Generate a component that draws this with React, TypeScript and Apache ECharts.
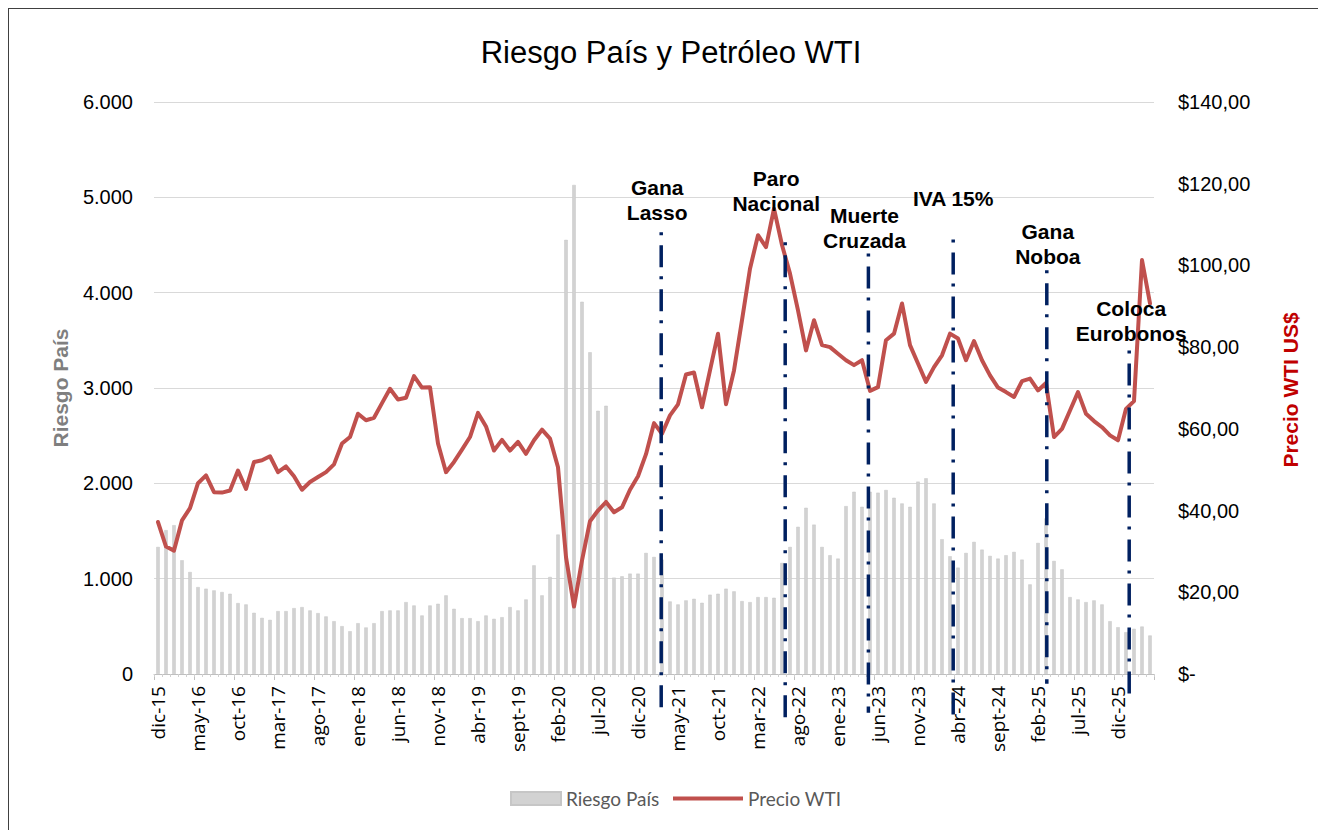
import React, { useEffect, useRef } from "react";
import * as echarts from "echarts";

const categories = [
  "dic-15",
  "ene-16", "feb-16", "mar-16", "abr-16", "may-16", "jun-16", "jul-16", "ago-16", "sept-16", "oct-16", "nov-16", "dic-16",
  "ene-17", "feb-17", "mar-17", "abr-17", "may-17", "jun-17", "jul-17", "ago-17", "sept-17", "oct-17", "nov-17", "dic-17",
  "ene-18", "feb-18", "mar-18", "abr-18", "may-18", "jun-18", "jul-18", "ago-18", "sept-18", "oct-18", "nov-18", "dic-18",
  "ene-19", "feb-19", "mar-19", "abr-19", "may-19", "jun-19", "jul-19", "ago-19", "sept-19", "oct-19", "nov-19", "dic-19",
  "ene-20", "feb-20", "mar-20", "abr-20", "may-20", "jun-20", "jul-20", "ago-20", "sept-20", "oct-20", "nov-20", "dic-20",
  "ene-21", "feb-21", "mar-21", "abr-21", "may-21", "jun-21", "jul-21", "ago-21", "sept-21", "oct-21", "nov-21", "dic-21",
  "ene-22", "feb-22", "mar-22", "abr-22", "may-22", "jun-22", "jul-22", "ago-22", "sept-22", "oct-22", "nov-22", "dic-22",
  "ene-23", "feb-23", "mar-23", "abr-23", "may-23", "jun-23", "jul-23", "ago-23", "sept-23", "oct-23", "nov-23", "dic-23",
  "ene-24", "feb-24", "mar-24", "abr-24", "may-24", "jun-24", "jul-24", "ago-24", "sept-24", "oct-24", "nov-24", "dic-24",
  "ene-25", "feb-25", "mar-25", "abr-25", "may-25", "jun-25", "jul-25", "ago-25", "sept-25", "oct-25", "nov-25", "dic-25",
  "ene-26", "feb-26", "mar-26", "abr-26",
];

const riesgoPais = [
  1333, 1509, 1561, 1193, 1070, 912, 895, 877, 860, 842,
  744, 730, 642, 589, 568, 660, 660, 691, 702, 667,
  639, 604, 554, 502, 449, 533, 488, 533, 660, 667,
  667, 754, 719, 614, 719, 737, 825, 684, 586, 586,
  554, 614, 579, 596, 702, 667, 782, 1140, 825, 1018,
  1463, 4554, 5130, 3905, 3375, 2761, 2814, 1011, 1025, 1053,
  1053, 1270, 1228, 1200, 761, 730, 772, 789, 747, 832,
  842, 895, 867, 765, 754, 807, 807, 800, 1165, 1333,
  1544, 1744, 1567, 1333, 1246, 1211, 1761, 1912, 1754, 1912,
  1902, 1930, 1849, 1789, 1754, 2018, 2053, 1789, 1414, 1235,
  1116, 1270, 1386, 1305, 1239, 1211, 1246, 1281, 1200, 940,
  1375, 1632, 1186, 1098, 807, 782, 754, 772, 730, 554,
  491, 439, 474, 498, 404,
];

const precioWTI = [
  37.2, 31.2, 30.2, 37.6, 40.6, 46.7, 48.6, 44.5, 44.4, 44.9,
  49.8, 45.3, 51.9, 52.3, 53.3, 49.4, 50.8, 48.4, 45.1, 47.0,
  48.2, 49.4, 51.3, 56.4, 58.0, 63.7, 62.1, 62.7, 66.3, 69.8,
  67.2, 67.6, 72.9, 70.1, 70.2, 56.4, 49.4, 51.9, 54.9, 58.0,
  63.9, 60.6, 54.7, 57.3, 54.7, 56.8, 53.9, 57.2, 59.8, 57.6,
  50.6, 28.6, 16.5, 27.8, 37.4, 40.0, 42.1, 39.6, 40.8, 45.1,
  48.4, 53.8, 61.4, 58.8, 63.3, 66.0, 73.3, 73.8, 65.3, 74.3,
  83.3, 66.0, 74.3, 86.6, 99.2, 107.4, 104.5, 113.9, 105.0, 98.0,
  89.0, 79.2, 86.6, 80.5, 80.0, 78.4, 76.8, 75.6, 76.8, 69.3,
  70.2, 81.7, 83.3, 90.7, 80.5, 76.0, 71.5, 75.1, 78.0, 83.3,
  82.1, 76.8, 81.5, 76.8, 73.1, 70.1, 69.0, 67.8, 71.7, 72.3,
  69.4, 71.2, 58.0, 60.0, 64.5, 69.0, 63.7, 61.9, 60.4, 58.4,
  57.2, 64.9, 66.8, 101.3, 90.7,
];

const leftTickLabels = ["0", "1.000", "2.000", "3.000", "4.000", "5.000", "6.000"];
const rightTickLabels = ["$-", "$20,00", "$40,00", "$60,00", "$80,00", "$100,00", "$120,00", "$140,00"];

// Events: label, position on the month axis (fractional category index),
// top and bottom of the marker line in "Riesgo País" units
const eventLabels = ["Gana\nLasso", "Paro\nNacional", "Muerte\nCruzada", "IVA 15%", "Gana\nNoboa", "Coloca\nEurobonos"];
const eventMonths = [62.9, 78.4, 88.8, 99.4, 111.1, 121.4];
const eventTops = [4633, 4528, 4412, 4559, 4234, 3394];
const eventBottoms = [-364, -490, -406, -448, -102, -206];

// label layout (pixels)
const labelDx = [-4, -9, -4, 0, 1, 2];
const labelCy = [200, 191, 228, 198, 244, 321];

export default function App() {
  const ref = useRef<HTMLDivElement>(null);

  useEffect(() => {
    const chart = echarts.init(ref.current!, null, { renderer: "svg" });
    const axisFont = "Liberation Sans, Arial, sans-serif";
    const catFont = "'Open Sans', Lato, sans-serif";
    const legFont = "Lato, 'Open Sans', sans-serif";
    chart.setOption({
      animation: false,
      backgroundColor: "#ffffff",
      grid: { left: 154, right: 164, top: 102, bottom: 156, containLabel: false },
      legend: [
        {
          data: [{ name: "Riesgo País", icon: "rect" }],
          left: 505,
          top: 784,
          itemWidth: 50,
          itemHeight: 13,
          itemGap: 0,
          textStyle: { fontFamily: legFont, fontSize: 19, color: "#595959" },
        },
        {
          data: [{ name: "Precio WTI", icon: "rect" }],
          left: 668,
          top: 784,
          itemWidth: 70,
          itemHeight: 4,
          itemGap: 0,
          textStyle: { fontFamily: legFont, fontSize: 19, color: "#595959" },
        },
      ],
      xAxis: [
        {
          type: "category",
          data: categories,
          boundaryGap: true,
          position: "bottom",
          axisLine: { show: true, lineStyle: { color: "#BFBFBF", width: 1 } },
          axisTick: { show: true, interval: 4, length: 6, lineStyle: { color: "#BFBFBF" } },
          axisLabel: {
            interval: 4,
            rotate: 90,
            fontSize: 19,
            fontFamily: catFont,
            color: "#000000",
            margin: 12,
          },
          splitLine: { show: false },
        },
        {
          type: "category",
          data: categories,
          boundaryGap: true,
          position: "bottom",
          axisLine: { show: false },
          axisTick: { show: true, interval: 0, length: 3, lineStyle: { color: "#D0D0D0" } },
          axisLabel: { show: false },
          splitLine: { show: false },
        },
      ],
      yAxis: [
        {
          type: "value",
          min: 0,
          max: 6000,
          interval: 1000,
          position: "left",
          axisLine: { show: false },
          axisTick: { show: false },
          splitLine: { lineStyle: { color: "#D9D9D9", width: 1 } },
          axisLabel: {
            formatter: (_v: number, i: number) => leftTickLabels[i],
            fontSize: 20,
            fontFamily: axisFont,
            color: "#000000",
            margin: 21,
          },
        },
        {
          type: "value",
          min: 0,
          max: 140,
          interval: 20,
          position: "right",
          axisLine: { show: false },
          axisTick: { show: false },
          splitLine: { show: false },
          axisLabel: {
            formatter: (_v: number, i: number) => rightTickLabels[i],
            fontSize: 20,
            fontFamily: axisFont,
            color: "#000000",
            margin: 24,
            align: "left",
          },
        },
      ],
      series: [
        {
          name: "Riesgo País",
          type: "bar",
          xAxisIndex: 0,
          yAxisIndex: 0,
          data: riesgoPais,
          barWidth: 3.5,
          itemStyle: { color: "#D2D2D2", borderColor: "#C6C6C6", borderWidth: 0.5 },
        },
        {
          name: "Precio WTI",
          type: "line",
          xAxisIndex: 0,
          yAxisIndex: 1,
          data: precioWTI,
          symbol: "none",
          lineStyle: { color: "#C0504D", width: 4, cap: "round", join: "round" },
          itemStyle: { color: "#C0504D" },
          z: 3,
        },
      ],
    });

    const xAt = (f: number) => {
      const a = Math.floor(f);
      const p0 = chart.convertToPixel({ xAxisIndex: 0 }, categories[a]) as number;
      const p1 = chart.convertToPixel({ xAxisIndex: 0 }, categories[a + 1]) as number;
      return p0 + (p1 - p0) * (f - a);
    };
    const yAt = (v: number) => chart.convertToPixel({ yAxisIndex: 0 }, v) as number;

    const graphics: any[] = [
      { type: "line", shape: { x1: 8.5, y1: 8, x2: 8.5, y2: 840 }, style: { stroke: "#404040", lineWidth: 1 }, z: 100 },
      { type: "line", shape: { x1: 8, y1: 8.5, x2: 1318, y2: 8.5 }, style: { stroke: "#404040", lineWidth: 1 }, z: 100 },
      {
        type: "text",
        x: 671,
        y: 52,
        style: {
          text: "Riesgo País y Petróleo WTI",
          fontSize: 31,
          fontFamily: axisFont,
          fill: "#000000",
          align: "center",
          verticalAlign: "middle",
        },
      },
      {
        type: "text",
        x: 60,
        y: 388,
        rotation: Math.PI / 2,
        style: {
          text: "Riesgo País",
          fontSize: 21,
          fontWeight: "bold",
          fontFamily: axisFont,
          fill: "#7F7F7F",
          align: "center",
          verticalAlign: "middle",
        },
      },
      {
        type: "text",
        x: 1290,
        y: 390,
        rotation: Math.PI / 2,
        style: {
          text: "Precio WTI US$",
          fontSize: 21,
          fontWeight: "bold",
          fontFamily: axisFont,
          fill: "#C00000",
          align: "center",
          verticalAlign: "middle",
        },
      },
    ];

    eventMonths.forEach((m, i) => {
      const x = xAt(m);
      graphics.push({
        type: "line",
        shape: { x1: x, y1: yAt(eventTops[i]), x2: x, y2: yAt(eventBottoms[i]) },
        style: { stroke: "#002060", lineWidth: 3.5, lineDash: [3, 10, 22, 9], lineCap: "butt" },
        z: 50,
      });
      graphics.push({
        type: "text",
        x: x + labelDx[i],
        y: labelCy[i],
        style: {
          text: eventLabels[i],
          fontSize: 21,
          fontWeight: "bold",
          fontFamily: axisFont,
          fill: "#000000",
          align: "center",
          verticalAlign: "middle",
          lineHeight: 25,
        },
        z: 40,
      });
    });

    chart.setOption({ graphic: graphics });

    return () => chart.dispose();
  }, []);

  return (
    <div
      ref={ref}
      style={{ position: "fixed", left: 0, top: 0, width: 1318, height: 830, background: "#ffffff" }}
    />
  );
}
